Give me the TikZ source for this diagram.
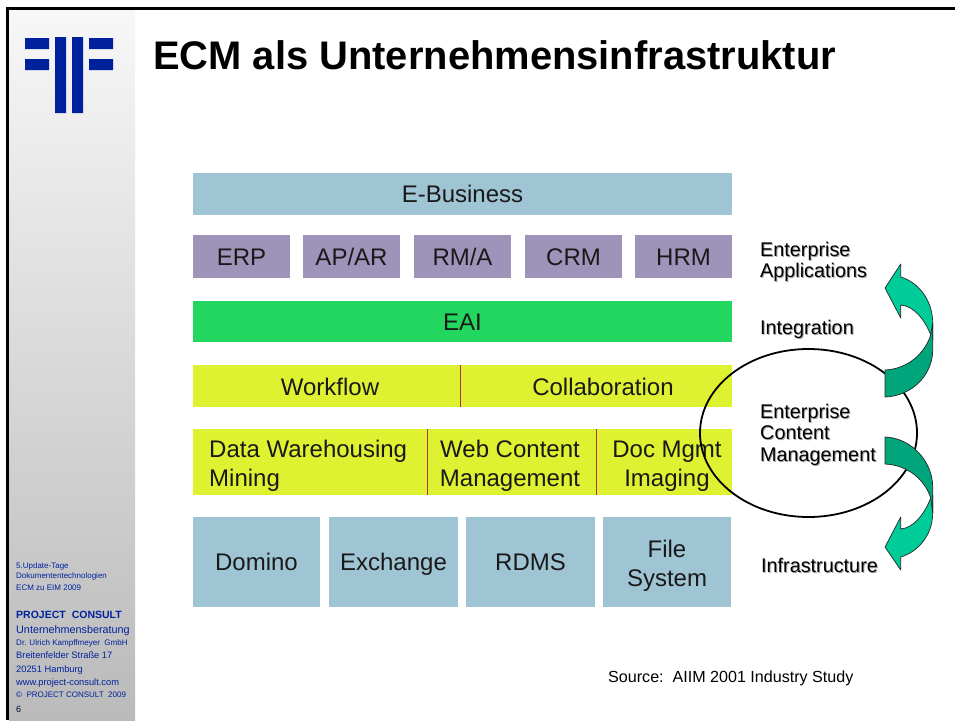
\documentclass[tikz,border=0pt]{standalone}
\usepackage{fontspec}
\setmainfont{Liberation Sans}
\usetikzlibrary{shapes.geometric}
\definecolor{bluebox}{HTML}{9FC5D4}
\definecolor{purplebox}{HTML}{9E94BA}
\definecolor{greenbox}{HTML}{22D660}
\definecolor{yellowbox}{HTML}{DFF232}
\definecolor{navy}{HTML}{00219C}
\definecolor{divider}{HTML}{A8324A}
\definecolor{arrowlight}{HTML}{00CC99}
\definecolor{arrowdark}{HTML}{00A57C}
\newcommand{\shadowed}[1]{\leavevmode\rlap{\raisebox{-1pt}{\hspace{1pt}\textcolor{black!35}{#1}}}#1}
\newcommand{\lineheight}{\rule[-5pt]{0pt}{27pt}}
\tikzset{
  box/.style={draw=none,inner sep=0pt,align=center,font=\fontsize{24}{29}\selectfont,text=black!90},
  sidelabel/.style={anchor=base west,inner sep=0pt,align=left,font=\fontsize{19.8}{22}\selectfont,text=black},
  small/.style={anchor=base west,inner sep=0pt,text=navy},
  divline/.style={draw=divider,line width=1pt},
  arrowpart/.style={draw=black!85,line width=0.7pt,line join=round},
}
\begin{document}
\begin{tikzpicture}[x=1pt,y=-1pt]
\useasboundingbox (0,0) rectangle (955,720);
\fill[white] (0,0) rectangle (955,720);
% left strip and frame
\shade[top color=white!97!black,bottom color=black!27] (9,9) rectangle (135,720);
\fill[black] (6,7) rectangle (955,10);
\fill[black] (6,7) rectangle (9,720);
% logo
\fill[navy] (25,38) rectangle (49,49) (25,59) rectangle (49,70)
  (55,37) rectangle (66,113) (72,37) rectangle (83,113)
  (89,38) rectangle (113,49) (89,59) rectangle (113,70);
\node[anchor=base west,inner sep=0pt,font=\fontsize{39.9}{42}\selectfont\bfseries] (title) at (153,69) {ECM als Unternehmensinfrastruktur};
% sidebar
\node[small,font=\fontsize{8}{10}\selectfont] (s1) at (16,568) {5.Update-Tage};
\node[small,font=\fontsize{8}{10}\selectfont] (s2) at (16,578) {Dokumententechnologien};
\node[small,font=\fontsize{8}{10}\selectfont] (s3) at (16,590) {ECM zu EIM 2009};
\node[small,font=\fontsize{10.5}{12}\selectfont\bfseries] (s4) at (16,618) {PROJECT\hspace{6pt}CONSULT};
\node[small,font=\fontsize{10.8}{14}\selectfont] (s5) at (16,633) {Unternehmensberatung};
\node[small,font=\fontsize{8.05}{10}\selectfont] (s6) at (16,645) {Dr. Ulrich Kampffmeyer\ \ GmbH};
\node[small,font=\fontsize{9.3}{12}\selectfont] (s7) at (16,658) {Breitenfelder Straße 17};
\node[small,font=\fontsize{9.3}{12}\selectfont] (s8) at (16,672) {20251 Hamburg};
\node[small,font=\fontsize{9.3}{12}\selectfont] (s9) at (16,685) {www.project-consult.com};
\node[small,font=\fontsize{8}{10}\selectfont] (s10) at (16,697) {©\ \ PROJECT CONSULT\ \ 2009};
\node[small,font=\fontsize{9}{10}\selectfont,text=black!60!navy] (s11) at (16,712) {6};
% boxes
\newcommand{\boxat}[7]{\fill[#1] (#3,#4) rectangle (#5,#6); \node[box] (#2) at ({(#3+#5)/2},{(#4+#6)/2}) {\lineheight #7};}
\boxat{bluebox}{ebus}{193}{173}{732}{215}{E-Business}
\boxat{purplebox}{erp}{193}{235}{290}{278}{ERP}
\boxat{purplebox}{apar}{303}{235}{400}{278}{AP/AR}
\boxat{purplebox}{rma}{414}{235}{511}{278}{RM/A}
\boxat{purplebox}{crm}{525}{235}{622}{278}{CRM}
\boxat{purplebox}{hrm}{635}{235}{732}{278}{HRM}
\boxat{greenbox}{eai}{193}{301}{732}{342}{EAI}
\fill[yellowbox] (193,365) rectangle (732,407);
\fill[yellowbox] (193,429) rectangle (732,495);
\draw[divline] (460,365) -- (460,407);
\draw[divline] (427,429) -- (427,495);
\draw[divline] (596,429) -- (596,495);
\node[box] (wf) at (330,386.5) {\lineheight Workflow};
\node[box] (coll) at (603,386.5) {\lineheight Collaboration};
\node[box,align=left,anchor=west] (dw) at (209,466) {Data Warehousing\\Mining};
\node[box] (wcm) at (510,466) {Web Content\\Management};
\node[box] (doc) at (667,466) {Doc Mgmt\\Imaging};
\boxat{bluebox}{dom}{193}{517}{320}{607}{Domino}
\boxat{bluebox}{exch}{329}{517}{458}{607}{Exchange}
\boxat{bluebox}{rdms}{466}{517}{595}{607}{RDMS}
\fill[bluebox] (603,517) rectangle (731,607);
\node[box] (fs) at (667,566) {File\\System};
% ellipse
\node[draw=black,line width=1.8pt,ellipse,minimum width=217pt,minimum height=168pt,inner sep=0pt] (ecm) at (808.5,433) {};
% labels
\node[sidelabel] (l1) at (760,256.5) {\shadowed{Enterprise}};
\node[sidelabel] (l2) at (760,277.5) {\shadowed{Applications}};
\node[sidelabel] (l3) at (760,334) {\shadowed{Integration}};
\node[sidelabel] (l4) at (760,418) {\shadowed{Enterprise}};
\node[sidelabel] (l5) at (760,439) {\shadowed{Content}};
\node[sidelabel] (l6) at (760,461) {\shadowed{Management}};
\node[sidelabel] (l7) at (761,572) {\shadowed{Infrastructure}};
\node[anchor=base west,inner sep=0pt,font=\fontsize{16.1}{18}\selectfont] (src) at (608,682) {Source:\ \ AIIM 2001 Industry Study};
% upper arrow
\path[arrowpart,fill=arrowlight] (885,288) -- (900.7,264) -- (900.7,277)
  .. controls (918,282) and (932.7,300) .. (932.7,323) -- (932.7,340) -- (930.7,335)
  .. controls (925,320) and (914,306) .. (900.7,305) -- (900.7,318) -- cycle;
\path[arrowpart,fill=arrowdark] (885,370)
  .. controls (908,369) and (925,353) .. (930.7,335) -- (932.7,323) -- (932.7,350)
  .. controls (932.7,375) and (912,396) .. (885,397) -- cycle;
% lower arrow
\path[arrowpart,fill=arrowlight] (885,547) -- (900.7,570) -- (900.7,557)
  .. controls (918,552) and (932.7,535) .. (932.7,513) -- (932.7,495) -- (930.7,498)
  .. controls (925,513) and (914,528) .. (900.7,529) -- (900.7,517) -- cycle;
\path[arrowpart,fill=arrowdark] (885,437)
  .. controls (912,438) and (932.7,462) .. (932.7,487) -- (932.7,513) -- (930.7,498)
  .. controls (925,480) and (908,465) .. (885,464) -- cycle;
\end{tikzpicture}
\end{document}
